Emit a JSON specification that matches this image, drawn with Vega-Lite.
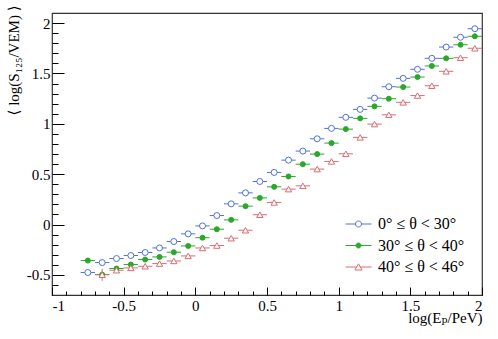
{
  "$schema": "https://vega.github.io/schema/vega-lite/v6.json",
  "width": 430,
  "height": 282,
  "autosize": "none",
  "padding": {"left": 52, "top": 13, "right": 16, "bottom": 44},
  "background": "white",
  "config": {
    "font": "Liberation Serif, DejaVu Serif, serif",
    "view": {"stroke": "#333", "strokeWidth": 1.2},
    "axis": {
      "domain": false, "grid": false, "tickColor": "black", "labelColor": "black",
      "labelFont": "Liberation Serif, DejaVu Serif, serif", "labelFontSize": 15, "titleFont": "Liberation Serif, DejaVu Serif, serif",
      "titleFontSize": 15, "titleFontWeight": "normal", "titleColor": "black", "tickWidth": 1
    },
    "legend": {
      "labelFont": "Liberation Serif, DejaVu Serif, serif", "labelFontSize": 16, "labelColor": "black",
      "symbolStrokeWidth": 1, "symbolSize": 400, "rowPadding": 2.5, "labelOffset": 9, "symbolOpacity": 1
    }
  },
  "data": {"values": [
    {"s":"a","x":-0.75,"y":-0.477,"ex":0.05},{"s":"a","x":-0.65,"y":-0.378,"ex":0.05},{"s":"a","x":-0.55,"y":-0.338,"ex":0.05},{"s":"a","x":-0.45,"y":-0.308,"ex":0.05},{"s":"a","x":-0.35,"y":-0.278,"ex":0.05},{"s":"a","x":-0.25,"y":-0.233,"ex":0.05},{"s":"a","x":-0.15,"y":-0.169,"ex":0.05},{"s":"a","x":-0.05,"y":-0.093,"ex":0.05},{"s":"a","x":0.05,"y":-0.014,"ex":0.05},{"s":"a","x":0.15,"y":0.089,"ex":0.05},{"s":"a","x":0.25,"y":0.205,"ex":0.05},{"s":"a","x":0.35,"y":0.314,"ex":0.05},{"s":"a","x":0.45,"y":0.427,"ex":0.05},{"s":"a","x":0.55,"y":0.517,"ex":0.05},{"s":"a","x":0.65,"y":0.639,"ex":0.05},{"s":"a","x":0.75,"y":0.729,"ex":0.05},{"s":"a","x":0.85,"y":0.851,"ex":0.05},{"s":"a","x":0.95,"y":0.954,"ex":0.05},{"s":"a","x":1.05,"y":1.064,"ex":0.05},{"s":"a","x":1.15,"y":1.143,"ex":0.05},{"s":"a","x":1.25,"y":1.255,"ex":0.05},{"s":"a","x":1.35,"y":1.368,"ex":0.05},{"s":"a","x":1.45,"y":1.451,"ex":0.05},{"s":"a","x":1.55,"y":1.541,"ex":0.05},{"s":"a","x":1.65,"y":1.65,"ex":0.05},{"s":"a","x":1.75,"y":1.762,"ex":0.05},{"s":"a","x":1.85,"y":1.859,"ex":0.05},{"s":"a","x":1.95,"y":1.944,"ex":0.05},
    {"s":"b","x":-0.75,"y":-0.358,"ex":0.05},{"s":"b","x":-0.65,"y":-0.497,"ex":0.05,"ey":0.02},{"s":"b","x":-0.55,"y":-0.437,"ex":0.05},{"s":"b","x":-0.45,"y":-0.398,"ex":0.05},{"s":"b","x":-0.35,"y":-0.348,"ex":0.05},{"s":"b","x":-0.25,"y":-0.322,"ex":0.05},{"s":"b","x":-0.15,"y":-0.275,"ex":0.05},{"s":"b","x":-0.05,"y":-0.213,"ex":0.05},{"s":"b","x":0.05,"y":-0.131,"ex":0.05},{"s":"b","x":0.15,"y":-0.047,"ex":0.05},{"s":"b","x":0.25,"y":0.046,"ex":0.05},{"s":"b","x":0.35,"y":0.182,"ex":0.05},{"s":"b","x":0.45,"y":0.264,"ex":0.05},{"s":"b","x":0.55,"y":0.374,"ex":0.05},{"s":"b","x":0.65,"y":0.477,"ex":0.05},{"s":"b","x":0.75,"y":0.599,"ex":0.05},{"s":"b","x":0.85,"y":0.699,"ex":0.05},{"s":"b","x":0.95,"y":0.808,"ex":0.05},{"s":"b","x":1.05,"y":0.947,"ex":0.05},{"s":"b","x":1.15,"y":1.054,"ex":0.05},{"s":"b","x":1.25,"y":1.173,"ex":0.05},{"s":"b","x":1.35,"y":1.249,"ex":0.05},{"s":"b","x":1.45,"y":1.365,"ex":0.05},{"s":"b","x":1.55,"y":1.464,"ex":0.05},{"s":"b","x":1.65,"y":1.574,"ex":0.05},{"s":"b","x":1.75,"y":1.65,"ex":0.05},{"s":"b","x":1.85,"y":1.785,"ex":0.05},{"s":"b","x":1.95,"y":1.869,"ex":0.05},
    {"s":"c","x":-0.65,"y":-0.499,"ex":0.05,"ey":0.06},{"s":"c","x":-0.55,"y":-0.454,"ex":0.05},{"s":"c","x":-0.45,"y":-0.431,"ex":0.05},{"s":"c","x":-0.35,"y":-0.415,"ex":0.05},{"s":"c","x":-0.25,"y":-0.388,"ex":0.05},{"s":"c","x":-0.15,"y":-0.362,"ex":0.05},{"s":"c","x":-0.05,"y":-0.312,"ex":0.05},{"s":"c","x":0.05,"y":-0.233,"ex":0.05},{"s":"c","x":0.15,"y":-0.209,"ex":0.05},{"s":"c","x":0.25,"y":-0.136,"ex":0.05},{"s":"c","x":0.35,"y":-0.057,"ex":0.05},{"s":"c","x":0.45,"y":0.097,"ex":0.05},{"s":"c","x":0.55,"y":0.219,"ex":0.05},{"s":"c","x":0.65,"y":0.351,"ex":0.05},{"s":"c","x":0.75,"y":0.384,"ex":0.05},{"s":"c","x":0.85,"y":0.55,"ex":0.05},{"s":"c","x":0.95,"y":0.626,"ex":0.05},{"s":"c","x":1.05,"y":0.702,"ex":0.05},{"s":"c","x":1.15,"y":0.865,"ex":0.05},{"s":"c","x":1.25,"y":0.997,"ex":0.05},{"s":"c","x":1.35,"y":1.089,"ex":0.05},{"s":"c","x":1.45,"y":1.213,"ex":0.05},{"s":"c","x":1.55,"y":1.28,"ex":0.05},{"s":"c","x":1.65,"y":1.378,"ex":0.05},{"s":"c","x":1.75,"y":1.521,"ex":0.05},{"s":"c","x":1.85,"y":1.656,"ex":0.05},{"s":"c","x":1.95,"y":1.75,"ex":0.05}
  ]},
  "resolve": {"axis": {"x": "independent", "y": "independent"}},
  "layer": [
    {
      "mark": {"type": "point", "opacity": 0},
      "encoding": {
        "x": {"field": "x", "type": "quantitative", "scale": {"domain": [-1, 2], "nice": false, "zero": false},
          "axis": {"orient": "bottom", "values": [-0.9,-0.8,-0.7,-0.6,-0.4,-0.3,-0.2,-0.1,0.1,0.2,0.3,0.4,0.6,0.7,0.8,0.9,1.1,1.2,1.3,1.4,1.6,1.7,1.8,1.9], "tickSize": -4, "labels": false, "title": null}},
        "y": {"field": "y", "type": "quantitative", "scale": {"domain": [-0.7, 2.1], "nice": false, "zero": false},
          "axis": {"orient": "left", "values": [-0.6,-0.4,-0.3,-0.2,-0.1,0.1,0.2,0.3,0.4,0.6,0.7,0.8,0.9,1.1,1.2,1.3,1.4,1.6,1.7,1.8,1.9], "tickSize": -6, "labels": false, "title": null}}
      }
    },
    {
      "transform": [{"filter": "datum.s == 'a'"}],
      "mark": {"type": "errorbar", "ticks": false, "thickness": 1, "color": "#5071d8"},
      "encoding": {
        "x": {"field": "x", "type": "quantitative", "axis": null},
        "xError": {"field": "ex"},
        "y": {"field": "y", "type": "quantitative", "axis": null}
      }
    },
    {
      "transform": [{"filter": "datum.s == 'b'"}],
      "mark": {"type": "errorbar", "ticks": false, "thickness": 1, "color": "#2aa82a"},
      "encoding": {
        "x": {"field": "x", "type": "quantitative", "axis": null},
        "xError": {"field": "ex"},
        "y": {"field": "y", "type": "quantitative", "axis": null}
      }
    },
    {
      "transform": [{"filter": "datum.s == 'c'"}],
      "mark": {"type": "errorbar", "ticks": false, "thickness": 1, "color": "#dc6b70"},
      "encoding": {
        "x": {"field": "x", "type": "quantitative", "axis": null},
        "xError": {"field": "ex"},
        "y": {"field": "y", "type": "quantitative", "axis": null}
      }
    },
    {
      "transform": [{"filter": "datum.s == 'b' && isValid(datum.ey)"}],
      "mark": {"type": "errorbar", "ticks": false, "thickness": 1, "color": "#2aa82a"},
      "encoding": {
        "x": {"field": "x", "type": "quantitative", "axis": null},
        "y": {"field": "y", "type": "quantitative", "axis": null},
        "yError": {"field": "ey"}
      }
    },
    {
      "transform": [{"filter": "datum.s == 'c' && isValid(datum.ey)"}],
      "mark": {"type": "errorbar", "ticks": false, "thickness": 1, "color": "#dc6b70"},
      "encoding": {
        "x": {"field": "x", "type": "quantitative", "axis": null},
        "y": {"field": "y", "type": "quantitative", "axis": null},
        "yError": {"field": "ey"}
      }
    },
    {
      "transform": [{"filter": "datum.s == 'a'"}],
      "mark": {"type": "point", "shape": "circle", "size": 36, "filled": true, "fill": "white", "stroke": "#5071d8", "strokeWidth": 1, "opacity": 1},
      "encoding": {
        "x": {"field": "x", "type": "quantitative", "axis": null},
        "y": {"field": "y", "type": "quantitative", "axis": null}
      }
    },
    {
      "transform": [{"filter": "datum.s == 'b'"}],
      "mark": {"type": "point", "shape": "circle", "size": 25, "filled": true, "fill": "#2aa82a", "stroke": "#2aa82a", "strokeWidth": 1, "opacity": 1},
      "encoding": {
        "x": {"field": "x", "type": "quantitative", "axis": null},
        "y": {"field": "y", "type": "quantitative", "axis": null}
      }
    },
    {
      "transform": [{"filter": "datum.s == 'c'"}],
      "mark": {"type": "point", "shape": "triangle-up", "size": 40, "filled": true, "fill": "white", "stroke": "#dc6b70", "strokeWidth": 1, "opacity": 1},
      "encoding": {
        "x": {"field": "x", "type": "quantitative", "axis": null},
        "y": {"field": "y", "type": "quantitative", "axis": null}
      }
    },
    {
      "transform": [{"filter": "datum.x > 5"}],
      "mark": {"type": "point", "strokeWidth": 1, "opacity": 1, "filled": true},
      "encoding": {
        "x": {"field": "x", "type": "quantitative",
          "axis": {"orient": "bottom", "values": [-1,-0.5,0,0.5,1,1.5,2], "tickSize": -8, "labelPadding": 11,
            "labelExpr": "datum.value + ''",
            "title": "log(Eₚ/PeV)", "titleAnchor": "end", "titleAlign": "right", "titleX": 430, "titleY": 27, "titleBaseline": "alphabetic"}},
        "y": {"field": "y", "type": "quantitative",
          "axis": {"orient": "left", "values": [-0.5,0,0.5,1,1.5,2], "tickSize": -12, "labelPadding": 14,
            "labelExpr": "datum.value + ''",
            "title": "⟨ log(S₁₂₅/VEM) ⟩", "titleAlign": "right", "titleAngle": -90, "titleX": -39, "titleY": -8, "titleBaseline": "middle"}},
        "stroke": {"field": "s", "type": "nominal",
          "scale": {"domain": ["a", "b", "c"], "range": ["#5071d8", "#2aa82a", "#dc6b70"]}},
        "fill": {"field": "s", "type": "nominal",
          "scale": {"domain": ["a", "b", "c"], "range": ["white", "#2aa82a", "white"]}},
        "shape": {"field": "s", "type": "nominal",
          "scale": {"domain": ["a", "b", "c"], "range": [
            "M-1.3,0H-0.3M0.3,0H1.3M0.3,0A0.3,0.3,0,1,1,-0.3,0A0.3,0.3,0,1,1,0.3,0Z",
            "M-1.3,0H-0.25M0.25,0H1.3M0.25,0A0.25,0.25,0,1,1,-0.25,0A0.25,0.25,0,1,1,0.25,0Z",
            "M-1.3,0H-0.18M0.18,0H1.3M0,-0.32L0.36,0.3L-0.36,0.3Z"]},
          "legend": {"orient": "none", "legendX": 296, "legendY": 200.5, "title": null,
            "labelFont": "Liberation Serif, DejaVu Serif, serif", "labelFontSize": 16, "symbolOpacity": 1,
            "labelExpr": "datum.value == 'a' ? '0° ≤ θ < 30°' : datum.value == 'b' ? '30° ≤ θ < 40°' : '40° ≤ θ < 46°'"}}
      }
    }
  ]
}
